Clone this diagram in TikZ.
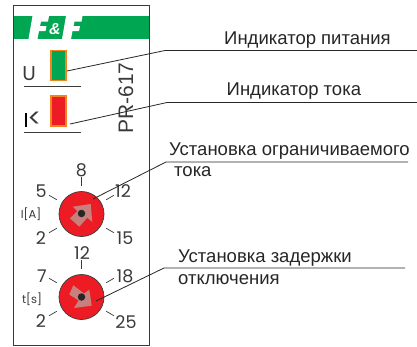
\documentclass[tikz,border=0pt]{standalone}
\usepackage{fontspec}
\setmainfont{Liberation Sans}
\newfontfamily\dialfont{Poppins}
\definecolor{ffgreen}{HTML}{00A651}
\definecolor{ffred}{HTML}{ED1C24}
\definecolor{fforange}{HTML}{F58220}
\definecolor{ffink}{HTML}{3A3A3A}
\definecolor{ffarrow}{HTML}{C97F7C}
\tikzset{
  leader/.style={draw=black!85,line width=0.8pt},
  callout/.style={anchor=base west,inner sep=0pt,text=black!85,font=\fontsize{18.5}{20}\selectfont},
  dialnum/.style={inner sep=0pt,text=ffink,font=\dialfont\fontsize{17.5}{18}\selectfont},
  dialunit/.style={inner sep=0pt,text=ffink,font=\dialfont\fontsize{11.5}{12}\selectfont},
  tickmark/.style={draw=ffink,line width=0.7pt},
  lamp/.style={draw=fforange,line width=1.1pt,minimum width=15pt,minimum height=30pt,inner sep=0pt},
  knob/.style={circle,draw=ffink,line width=0.7pt,fill=ffred,minimum size=45pt,inner sep=0pt},
  hub/.style={circle,fill=black!85,minimum size=7.5pt,inner sep=0pt},
  rule/.style={draw=ffink,line width=0.9pt},
}
\begin{document}
\begin{tikzpicture}[x=1pt,y=-1pt]
\useasboundingbox (0,0) rectangle (417,346);
\fill[white] (0,0) rectangle (417,346);
% panel
\fill[ffgreen] (14,16) rectangle (149,39);
\draw[draw=ffink,line width=0.9pt] (13.5,345) -- (13.5,5) -- (149,5) -- (149,345) -- cycle;
% logo
\fill[white] (32.5,16) -- (28.5,39) -- (37.5,39) -- (39,31) -- (45.5,31) -- (46.5,26) -- (40,26) -- (41,21.5) -- (48,21.5) -- (49,16) -- cycle;
\fill[white] (66,16) -- (62,39) -- (71,39) -- (72.5,31) -- (79,31) -- (80,26) -- (73.5,26) -- (74.5,21.5) -- (81.5,21.5) -- (82.5,16) -- cycle;
\node[inner sep=0pt,text=white,font=\bfseries\itshape\fontsize{16}{16}\selectfont] (amp) at (55,29.5) {\&};
% indicators
\node[lamp,fill=ffgreen] (lampU) at (58.5,65.5) {};
\node[lamp,fill=ffred] (lampI) at (58.5,111) {};
\draw[rule] (24,86) -- (81,86);
\draw[rule] (24,132) -- (81,132);
\node[inner sep=0pt,text=ffink,font=\dialfont\fontsize{20}{20}\selectfont] (labU) at (29,74) {U};
\draw[draw=black,line width=1.5pt] (26,113) -- (26,127);
\node[inner sep=0pt,text=ffink,font=\dialfont\fontsize{26}{26}\selectfont] (labI) at (34.5,120) {<};
\node[inner sep=0pt,rotate=90,text=ffink,font=\fontsize{21}{21}\selectfont] (model) at (126,98) {PR-617};
% dial 1
\node[knob] (d1) at (81.5,214) {};
\fill[ffarrow] (72.7,206.7) -- (90.7,204) -- (92.3,222) -- (87.3,217.7) -- (79.3,226.7) -- (70,218.3) -- (77.3,211) -- cycle;
\node[hub] (h1) at (81.5,213.5) {};
\foreach \ang in {-90,-150,-210,-330,-30}{
  \draw[tickmark] (d1.center)++(\ang:28.5) -- ++(\ang:9);
}
\node[dialnum] (n8) at (81.5,170) {8};
\node[dialnum] (n5) at (41,191) {5};
\node[dialnum] (n2a) at (41,238) {2};
\node[dialnum] (n12a) at (123,191) {12};
\node[dialnum] (n15) at (125,238) {15};
\node[dialunit] (uA) at (31,214.5) {I[A]};
% dial 2
\node[knob] (d2) at (81.5,297) {};
\fill[ffarrow] (73.3,285.3) -- (84,293.5) -- (89.3,289.7) -- (91.7,305.7) -- (74,308) -- (78.5,300.5) -- (69.3,294.5) -- cycle;
\node[hub] (h2) at (81.5,297) {};
\foreach \ang in {-90,-150,-210,-330,-30}{
  \draw[tickmark] (d2.center)++(\ang:28.5) -- ++(\ang:9);
}
\node[dialnum] (n12b) at (82,253) {12};
\node[dialnum] (n7) at (42,276) {7};
\node[dialnum] (n2b) at (41,321) {2};
\node[dialnum] (n18) at (125,276) {18};
\node[dialnum] (n25) at (126,322) {25};
\node[dialunit] (ut) at (32,299) {t[s]};
% callouts
\coordinate (k1) at (165,50.5);
\coordinate (e1) at (417,50.5);
\coordinate (k2) at (167,102.5);
\coordinate (e2) at (417,102.5);
\coordinate (k3) at (166,162);
\coordinate (e3) at (408,162);
\coordinate (k4) at (164,268);
\coordinate (e4) at (405,268);
\coordinate (s1) at (67,71);
\coordinate (s2) at (70,124);
\coordinate (s3) at (93,199);
\coordinate (s4) at (96,301);
\draw[leader] (s1) -- (k1) -- (e1);
\draw[leader] (s2) -- (k2) -- (e2);
\draw[leader] (s3) -- (k3) -- (e3);
\draw[leader] (s4) -- (k4) -- (e4);
\node[callout] (t1) at (224,44) {Индикатор питания};
\node[callout] (t2) at (226.5,95) {Индикатор тока};
\node[callout] (t3) at (169,155) {Установка ограничиваемого};
\node[callout] (t3b) at (174,176) {тока};
\node[callout] (t4) at (178,262) {Установка задержки};
\node[callout] (t4b) at (178,284) {отключения};
\end{tikzpicture}
\end{document}
